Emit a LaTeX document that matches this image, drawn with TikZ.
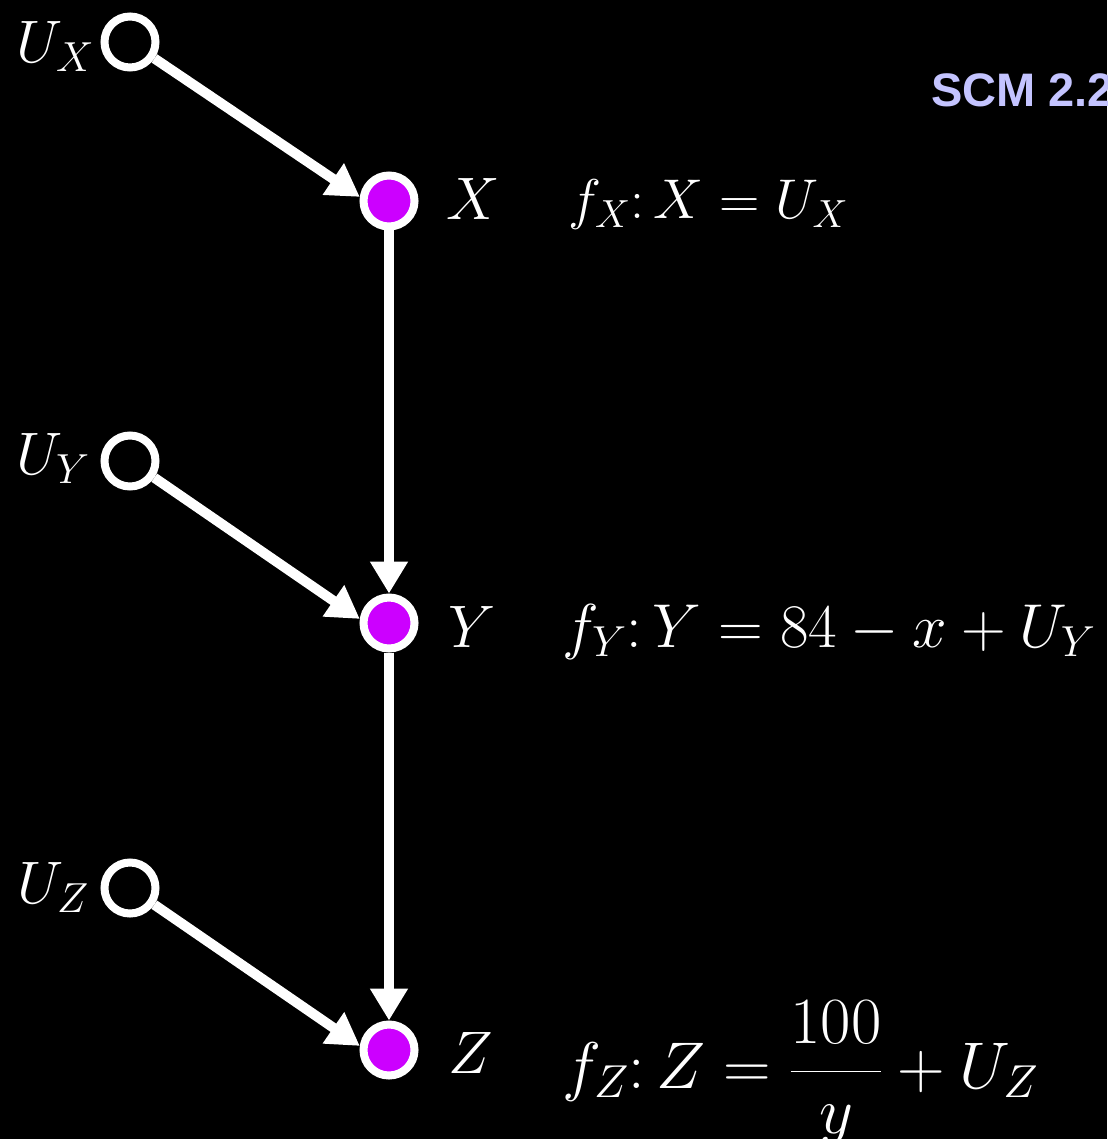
\RequirePackage{fix-cm}
\documentclass[tikz,border=0pt]{standalone}
\usepackage{fontspec}
\newfontfamily\arialfont{Liberation Sans}
\usetikzlibrary{arrows.meta}
\definecolor{nodepurple}{RGB}{204,0,255}
\definecolor{titlelav}{RGB}{196,196,255}
\tikzset{
  exo/.style={circle,draw=white,line width=8pt,fill=black,minimum size=51pt,inner sep=0pt},
  endo/.style={circle,draw=white,line width=8pt,fill=nodepurple,minimum size=51pt,inner sep=0pt},
  arr/.style={white,line width=10pt,-{Triangle[length=32pt,width=36pt]}},
  lbl/.style={text=white,anchor=base west,inner sep=0pt,font=\fontsize{60}{66}\selectfont},
  eqn/.style={text=white,anchor=base west,inner sep=0pt,font=\fontsize{62}{68}\selectfont},
  eqnsmall/.style={text=white,anchor=base west,inner sep=0pt,font=\fontsize{56}{62}\selectfont},
  eqnbig/.style={text=white,anchor=base west,inner sep=0pt,font=\fontsize{66}{72}\selectfont},
}
\begin{document}
\begin{tikzpicture}[x=1pt,y=-1pt]
\useasboundingbox (0,0) rectangle (1107,1139);
\clip (0,0) rectangle (1107,1139);
\fill[black] (0,0) rectangle (1107,1139);
% nodes
\node[exo]  (ux) at (130,42)  {};
\node[endo] (x)  at (389,201) {};
\node[exo]  (uy) at (130,461) {};
\node[endo] (y)  at (389,623) {};
\node[exo]  (uz) at (130,888) {};
\node[endo] (z)  at (389,1050) {};
% connectors
\draw[arr] (ux) -- (x.172);
\draw[arr] (uy) -- (y.172);
\draw[arr] (uz) -- (z.172);
\draw[arr] (x) -- (y);
\draw[arr] (y) -- (z);
% labels
\node[lbl] (lux) at (16,63)  {$U_X$};
\node[lbl] (luy) at (16,474) {$U_Y$};
\node[lbl] (luz) at (17,903) {$U_Z$};
\node[lbl] (lx) at (446,220)  {$X$};
\node[lbl] (ly) at (448,647)  {$Y$};
\node[lbl] (lz) at (448,1073) {$Z$};
% equations
\node[eqnsmall] (ex) at (568,219) {$f_X\colon X = U_X$};
\node[eqn] (ey) at (562,647) {$f_Y\colon Y = 84 - x + U_Y$};
\node[eqnbig] (ez) at (562,1088) {$f_Z\colon Z = {\displaystyle\frac{100}{y}} + U_Z$};
% title
\node[text=titlelav,anchor=base west,inner sep=0pt,font=\arialfont\bfseries\fontsize{47}{52}\selectfont] (title) at (931,107) {SCM 2.2};
\end{tikzpicture}
\end{document}
